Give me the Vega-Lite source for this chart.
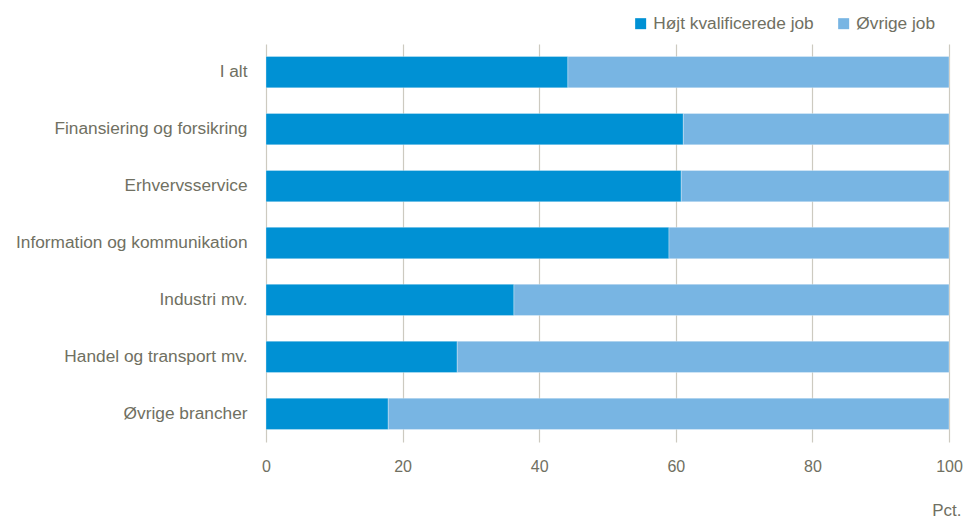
{
  "$schema": "https://vega.github.io/schema/vega-lite/v6.json",
  "width": 683,
  "height": 398,
  "autosize": "none",
  "padding": {"left": 266, "top": 44, "right": 27, "bottom": 77},
  "background": "white",
  "config": {
    "view": {"stroke": null},
    "font": "Liberation Sans",
    "axis": {"labelFont": "Liberation Sans", "titleFont": "Liberation Sans"},
    "legend": {"labelFont": "Liberation Sans"}
  },
  "data": {
    "values": [
      {"branche": "I alt", "type": "Højt kvalificerede job", "ord": 1, "value": 44.2},
      {"branche": "I alt", "type": "Øvrige job", "ord": 2, "value": 55.8},
      {"branche": "Finansiering og forsikring", "type": "Højt kvalificerede job", "ord": 1, "value": 61.1},
      {"branche": "Finansiering og forsikring", "type": "Øvrige job", "ord": 2, "value": 38.9},
      {"branche": "Erhvervsservice", "type": "Højt kvalificerede job", "ord": 1, "value": 60.8},
      {"branche": "Erhvervsservice", "type": "Øvrige job", "ord": 2, "value": 39.2},
      {"branche": "Information og kommunikation", "type": "Højt kvalificerede job", "ord": 1, "value": 59.0},
      {"branche": "Information og kommunikation", "type": "Øvrige job", "ord": 2, "value": 41.0},
      {"branche": "Industri mv.", "type": "Højt kvalificerede job", "ord": 1, "value": 36.3},
      {"branche": "Industri mv.", "type": "Øvrige job", "ord": 2, "value": 63.7},
      {"branche": "Handel og transport mv.", "type": "Højt kvalificerede job", "ord": 1, "value": 28.0},
      {"branche": "Handel og transport mv.", "type": "Øvrige job", "ord": 2, "value": 72.0},
      {"branche": "Øvrige brancher", "type": "Højt kvalificerede job", "ord": 1, "value": 17.9},
      {"branche": "Øvrige brancher", "type": "Øvrige job", "ord": 2, "value": 82.1}
    ]
  },
  "mark": {"type": "bar", "stroke": "white", "strokeWidth": 0.6, "strokeOpacity": 0.5},
  "encoding": {
    "y": {
      "field": "branche",
      "type": "nominal",
      "sort": ["I alt", "Finansiering og forsikring", "Erhvervsservice", "Information og kommunikation", "Industri mv.", "Handel og transport mv.", "Øvrige brancher"],
      "scale": {"paddingInner": 0.45, "paddingOuter": 0.22},
      "axis": {
        "title": null,
        "ticks": false,
        "domain": false,
        "labelPadding": 19,
        "labelFontSize": 17.3,
        "labelColor": "#707062",
        "labelLimit": 300
      }
    },
    "x": {
      "field": "value",
      "type": "quantitative",
      "stack": "zero",
      "scale": {"domain": [0, 100], "nice": false},
      "axis": {
        "values": [0, 20, 40, 60, 80, 100],
        "title": "Pct.",
        "titleFontSize": 17,
        "titleFontWeight": "normal",
        "titleColor": "#707062",
        "titleAnchor": "end",
        "titleAlign": "right",
        "titleBaseline": "middle",
        "titleX": 695,
        "titleY": 68,
        "ticks": false,
        "domain": false,
        "grid": true,
        "gridColor": "#cdcac0",
        "gridWidth": 1.2,
        "labelFlush": false,
        "labelPadding": 16,
        "labelFontSize": 16,
        "labelColor": "#707062"
      }
    },
    "color": {
      "field": "type",
      "type": "nominal",
      "scale": {"domain": ["Højt kvalificerede job", "Øvrige job"], "range": ["#0091d4", "#78b5e3"]},
      "legend": {
        "title": null,
        "orient": "none",
        "direction": "horizontal",
        "legendX": 366,
        "legendY": -29,
        "padding": 0,
        "symbolType": "square",
        "symbolSize": 121,
        "symbolStrokeWidth": 0,
        "labelFontSize": 17.3,
        "labelLimit": 400,
        "labelColor": "#707062",
        "labelOffset": 4,
        "columnPadding": 21
      }
    },
    "order": {"field": "ord", "type": "quantitative"}
  }
}
